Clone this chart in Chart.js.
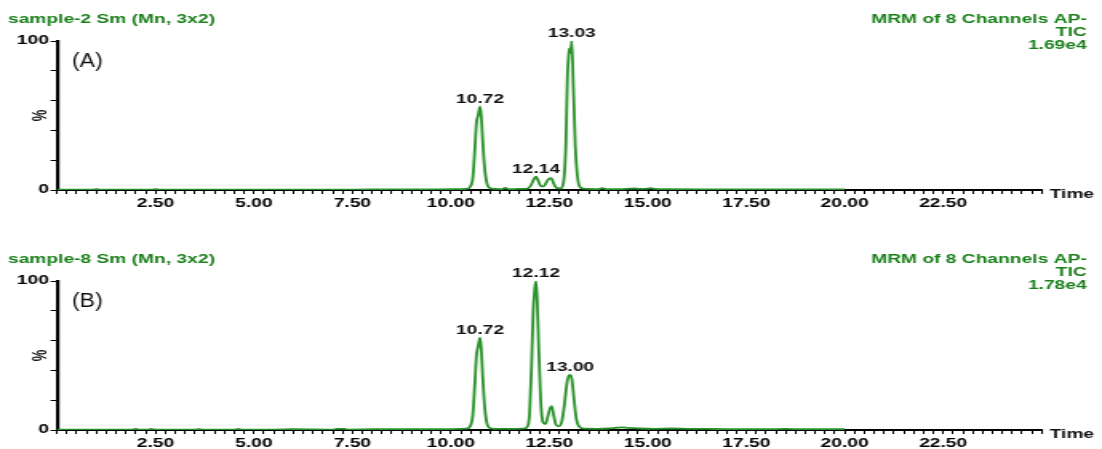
<!DOCTYPE html>
<html>
<head>
<meta charset="utf-8">
<script src="https://cdn.jsdelivr.net/npm/chart.js@4.4.0/dist/chart.umd.min.js"></script>
<style>
  html, body { margin: 0; padding: 0; background: #fff; overflow: hidden; width: 1102px; height: 449px; }
  .panel { position: absolute; left: 0; width: 1102px; height: 224px; }
</style>
</head>
<body>
<div class="panel" style="top:0"><canvas id="chartA" width="689" height="224" style="width:1102px;height:224px"></canvas></div>
<div class="panel" style="top:240px"><canvas id="chartB" width="689" height="224" style="width:1102px;height:224px"></canvas></div>
<script>
// sample-2 trace (retention time in min, relative intensity in %)
const timesA = [0, 0.9, 1.0, 1.1, 2.0, 2.4, 2.5, 2.6, 3.5, 4.5, 5.5, 6.5, 7.5, 8.5, 9.3, 10.0, 10.4, 10.5, 10.56, 10.61,
  10.65, 10.69, 10.72, 10.74, 10.77, 10.81, 10.86, 10.92, 11.0, 11.1, 11.3, 11.38, 11.46, 11.7, 11.95, 12.04, 12.1, 12.16,
  12.22, 12.29, 12.36, 12.43, 12.49, 12.55, 12.61, 12.68, 12.78, 12.86, 12.92, 12.96, 13.0, 13.02, 13.04, 13.07, 13.11,
  13.16, 13.22, 13.3, 13.45, 13.75, 13.85, 13.95, 14.3, 14.55, 14.65, 14.8, 15.0, 15.08, 15.18, 15.5, 16.5, 17.5, 18.5,
  19.5, 20.0];
const intensityA = [0.3, 0.3, 0.6, 0.3, 0.3, 0.3, 0.6, 0.3, 0.3, 0.3, 0.3, 0.3, 0.3, 0.4, 0.4, 0.5, 0.8, 2.5, 9, 28,
  45, 50, 54, 56, 50, 32, 14, 4, 1.2, 0.7, 0.6, 1.4, 0.6, 0.7, 1, 3.5, 7, 9,
  6, 2.5, 2.5, 5.5, 7.5, 8, 4.5, 1.5, 1, 5, 30, 75, 93, 95, 92, 100, 70,
  30, 8, 1.5, 0.7, 0.6, 1.2, 0.6, 0.6, 0.9, 1.0, 0.7, 0.9, 1.2, 0.7, 0.5, 0.4, 0.4, 0.4,
  0.4, 0.4];

// sample-8 trace
const timesB = [0, 1.0, 1.9, 2.0, 2.1, 2.3, 2.4, 2.5, 3.5, 3.6, 3.7, 4.5, 4.6, 4.7, 5.5, 6.0, 7.0, 7.1, 7.3, 7.4, 8.0,
  9.0, 10.0, 10.4, 10.5, 10.56, 10.61, 10.65, 10.69, 10.72, 10.74, 10.77, 10.81, 10.86, 10.92, 11.0, 11.1, 11.5, 11.85,
  11.95, 12.0, 12.05, 12.09, 12.13, 12.16, 12.19, 12.23, 12.28, 12.34, 12.4, 12.46, 12.51, 12.56, 12.61, 12.67, 12.74,
  12.82, 12.88, 12.94, 12.99, 13.04, 13.08, 13.13, 13.19, 13.27, 13.4, 13.7, 14.0, 14.2, 14.35, 14.5, 14.8, 15.2, 15.6,
  16.0, 16.5, 17.0, 17.5, 18.0, 18.5, 19.0, 19.5, 20.0];
const intensityB = [0.3, 0.3, 0.3, 0.7, 0.3, 0.3, 0.7, 0.3, 0.3, 0.6, 0.3, 0.3, 0.7, 0.3, 0.3, 0.5, 0.3, 0.7, 0.7, 0.3, 0.5,
  0.5, 0.6, 0.9, 3, 11, 32, 50, 56, 60, 62, 55, 35, 15, 4, 1.2, 0.8, 0.7, 0.9,
  2.5, 12, 45, 80, 95, 100, 88, 55, 20, 5, 4, 9, 14, 16, 10, 3.5, 2.5,
  6, 16, 30, 36, 37, 33, 20, 7, 2, 0.9, 0.8, 1.0, 1.5, 1.8, 1.4, 1.0, 0.8, 1.0,
  0.8, 0.7, 0.6, 0.6, 0.5, 0.8, 0.5, 0.5, 0.5];

// peak annotations
const peakTimesA = [10.74, 12.16, 13.07];
const peakValuesA = [56, 9, 100];
const peakTextA = ['10.72', '12.14', '13.03'];
const peakTimesB = [10.74, 12.16, 13.03];
const peakValuesB = [62, 100, 37];
const peakTextB = ['10.72', '12.12', '13.00'];

const STRETCH = 1.6;           // canvas is drawn narrow and widened by css
const GREEN = '#2a922a';
const TEXT_GREEN = '#1b801b';

const panelText = {
  id: 'panelText',
  afterDraw(chart, args, opts) {
    const ctx = chart.ctx;
    const x = chart.scales.x;
    const y = chart.scales.y;
    ctx.save();

    ctx.fillStyle = TEXT_GREEN;
    ctx.font = 'bold 12px Arial';
    ctx.textBaseline = 'alphabetic';
    ctx.textAlign = 'left';
    ctx.fillText(opts.title, 8 / STRETCH, 23);
    ctx.textAlign = 'right';
    ctx.fillText('MRM of 8 Channels AP-', 1087 / STRETCH, 23);
    ctx.fillText('TIC', 1087 / STRETCH, 36);
    ctx.fillText(opts.scaleText, 1087 / STRETCH, 49);

    // panel letter
    ctx.fillStyle = '#111';
    ctx.font = '20px Arial';
    ctx.textAlign = 'left';
    ctx.save();
    ctx.translate(72 / STRETCH, 67);
    ctx.scale(0.72, 1);
    ctx.fillText(opts.letter, 0, 0);
    ctx.restore();

    // peak labels
    ctx.fillStyle = '#111';
    ctx.font = 'bold 12px Arial';
    ctx.textAlign = 'center';
    opts.peakTimes.forEach((t, i) => {
      ctx.fillText(opts.peakText[i], x.getPixelForValue(t), y.getPixelForValue(opts.peakValues[i]) - 4);
    });

    // axis title and rotated percent sign
    ctx.font = 'bold 12px Arial';
    ctx.textAlign = 'left';
    ctx.fillText('Time', 1050 / STRETCH, 198);
    ctx.save();
    ctx.translate(40 / STRETCH, y.getPixelForValue(50));
    ctx.rotate(-Math.PI / 2);
    ctx.textAlign = 'center';
    ctx.textBaseline = 'middle';
    ctx.font = 'bold 13px Arial';
    ctx.fillText('%', 0, 0);
    ctx.restore();

    ctx.restore();
  }
};

function makeChart(id, times, values, extra) {
  const ctx = document.getElementById(id).getContext('2d');
  return new Chart(ctx, {
    type: 'line',
    data: {
      datasets: [{
        data: times.map((t, i) => ({ x: t, y: values[i] })),
        borderColor: GREEN,
        borderWidth: 1.8,
        pointRadius: 0,
        fill: false,
        cubicInterpolationMode: 'monotone',
      }],
    },
    options: {
      responsive: false,
      animation: false,
      devicePixelRatio: 1,
      layout: { padding: { top: 41, right: 689 - 1042 / STRETCH, bottom: 11, left: 0 } },
      plugins: {
        legend: { display: false },
        tooltip: { enabled: false },
        panelText: extra,
      },
      scales: {
        x: {
          type: 'linear',
          min: 0,
          max: 25,
          afterFit: (scale) => { scale.height = 23; },
          border: { display: true, color: '#000', width: 2 },
          grid: { display: true, drawOnChartArea: false, drawTicks: true, tickLength: 4, tickColor: '#000', lineWidth: 1 },
          ticks: {
            stepSize: 0.25,
            maxTicksLimit: 200,
            autoSkip: false,
            maxRotation: 0,
            padding: 2,
            color: '#000',
            font: { family: 'Arial', size: 12, weight: 'bold' },
            callback: (v) => {
              const r = Math.round(v * 100);
              return (r % 250 === 0 && r > 0 && r < 2500) ? (r / 100).toFixed(2) : '';
            },
          },
        },
        y: {
          min: 0,
          max: 100,
          afterFit: (scale) => { scale.width = 57 / STRETCH; },
          border: { display: true, color: '#000', width: 2.2 },
          grid: { display: true, drawOnChartArea: false, drawTicks: true, tickLength: 4, tickColor: '#000', lineWidth: 1 },
          ticks: {
            stepSize: 10,
            padding: 1,
            color: '#000',
            font: { family: 'Arial', size: 12, weight: 'bold' },
            callback: (v) => (v === 0 || v === 100) ? String(v) : '',
          },
        },
      },
    },
    plugins: [panelText],
  });
}

makeChart('chartA', timesA, intensityA, {
  title: 'sample-2 Sm (Mn, 3x2)', scaleText: '1.69e4', letter: '(A)',
  peakTimes: peakTimesA, peakValues: peakValuesA, peakText: peakTextA,
});
makeChart('chartB', timesB, intensityB, {
  title: 'sample-8 Sm (Mn, 3x2)', scaleText: '1.78e4', letter: '(B)',
  peakTimes: peakTimesB, peakValues: peakValuesB, peakText: peakTextB,
});
</script>
</body>
</html>
